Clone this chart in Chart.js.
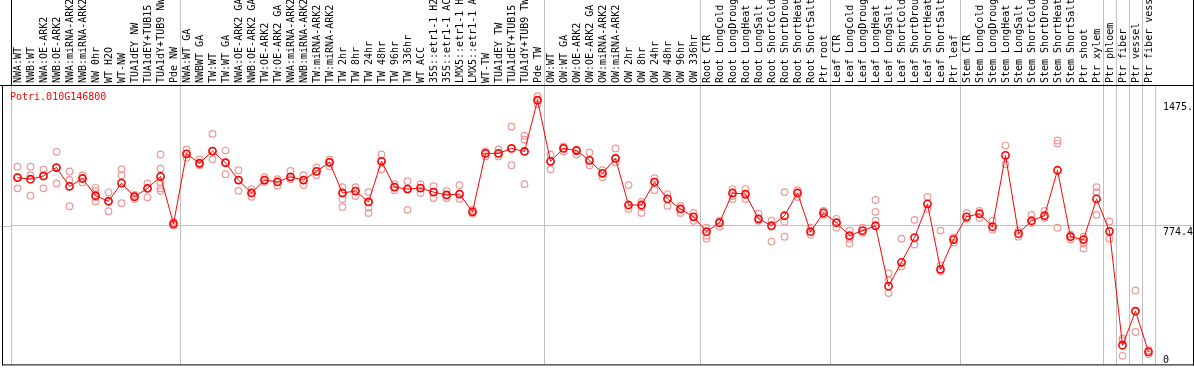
<!DOCTYPE html>
<html><head><meta charset="utf-8">
<script src="https://cdn.jsdelivr.net/npm/chart.js@4.4.1/dist/chart.umd.min.js"></script>
<style>html,body{margin:0;padding:0;background:#fff;overflow:hidden}canvas{display:block}</style>
</head><body>
<canvas id="c" width="1194" height="370"></canvas>
<script>
const geneId = 'Potri.010G146800';

const categories = [
  'NWA:WT','NWB:WT','NWA:OE-ARK2','NWB:OE-ARK2','NWA:miRNA-ARK2','NWB:miRNA-ARK2','NW 0hr','WT H2O','WT-NW','TUA1dEY NW','TUA1dEY+TUB15 NW','TUA1dY+TUB9 NW','Pde NW',
  'NWA:WT GA','NWBWT GA','TW:WT','TW:WT GA','NWA:OE-ARK2 GA','NWB:OE-ARK2 GA','TW:OE-ARK2','TW:OE-ARK2 GA','NWA:miRNA-ARK2 GA','NWB:miRNA-ARK2 GA','TW:miRNA-ARK2','TW:miRNA-ARK2 GA',
  'TW 2hr','TW 8hr','TW 24hr','TW 48hr','TW 96hr','TW 336hr','WT ACC','35S::etr1-1 H2O','35S::etr1-1 ACC','LMX5::etr1-1 H2O','LMX5::etr1-1 ACC','WT-TW','TUA1dEY TW','TUA1dEY+TUB15 TW','TUA1dY+TUB9 TW','Pde TW',
  'OW:WT','OW:WT GA','OW:OE-ARK2','OW:OE-ARK2 GA','OW:miRNA-ARK2','OW:miRNA-ARK2 GA','OW 2hr','OW 8hr','OW 24hr','OW 48hr','OW 96hr','OW 336hr',
  'Root CTR','Root LongCold','Root LongDrought','Root LongHeat','Root LongSalt','Root ShortCold','Root ShortDrought','Root ShortHeat','Root ShortSalt','Ptr root',
  'Leaf CTR','Leaf LongCold','Leaf LongDrought','Leaf LongHeat','Leaf LongSalt','Leaf ShortCold','Leaf ShortDrought','Leaf ShortHeat','Leaf ShortSalt','Ptr leaf',
  'Stem CTR','Stem LongCold','Stem LongDrought','Stem LongHeat','Stem LongSalt','Stem ShortCold','Stem ShortDrought','Stem ShortHeat','Stem ShortSalt','Ptr shoot','Ptr xylem',
  'Ptr phloem','Ptr fiber','Ptr vessel','Ptr fiber vessel'
];

const meanValues = [
  1043,1034,1052,1099,994,1038,942,911,1012,936,983,1049,785,
  1176,1123,1191,1126,1029,957,1029,1019,1047,1029,1078,1128,957,968,907,1134,990,979,984,962,946,951,852,1178,1178,1206,1189,1475,
  1134,1206,1194,1139,1067,1150,890,890,1018,924,868,824,
  741,791,957,951,813,774,830,957,741,846,
  791,719,747,774,437,570,708,896,531,697,
  824,841,769,1167,730,802,830,1084,713,697,924,
  743,107,297,70
];

const replicateValues = [
  [1104,1045,983],[1104,1056,942],[1089,1052,983],[1187,1099,1010],[1077,1030,883],[1056,1038,1016],[986,969,933,909],[961,911,855],[1089,1056,900],[946,936,924],[1010,983,933],[1172,1093,1016,983,969],[796,785,774],
  [1200,1176,1154],[1145,1123,1112],[1287,1191,1145],[1194,1126,1062],[1084,1029,969],[979,957,936],[1045,1029,1018],[1034,1019,997],[1080,1047,1034],[1056,1029,1001],[1100,1078,1056],[1145,1128,1106],
  [990,957,924,879],[990,968,940],[962,907,874,846],[1172,1134,1089],[1006,990,973],[1023,979,863],[1006,984,957],[995,962,929],[968,946,929],[1001,951,924],[863,852,841],[1189,1178,1161],[1200,1178,1161],[1327,1206,1112],[1277,1255,1189,1006],[1498,1475,1452],
  [1172,1134,1089],[1217,1206,1189],[1200,1194,1172],[1183,1139,1112],[1084,1067,1045],[1206,1150,1128],[1001,890,868],[907,879,846],[1040,1018,973],[951,924,885],[885,868,846],[846,824,802],
  [763,719,702],[802,769],[979,940,924],[979,946,924],[841,802],[802,686],[962,796,713],[973,935],[763,724],[857,835],
  [813,763],[747,702,675],[763,735],[918,852,802],[509,470,398],[702,547],[807,669],[935,868],[747,553,520],[708,680],
  [846,813],[857,818],[802,752],[1222,1117],[747,713],[835,791],[857,818],[1250,1233,763],[724,697],[713,675,647],[990,962,835],
  [798,702],[145,134,48],[413,181],[79,57]
];

const yTickValues = [0, 774.4, 1475];
const yTickLabels = ['0', '774.4', '1475.'];
const yMax = 1560;
const groupBreaks = [0, 13, 41, 53, 63, 73, 84, 85, 86, 87, 88];

const FONT = 'DejaVu Sans Mono';
const GRID = '#c0c0c0';
const NONE = 'rgba(0,0,0,0)';
const breakSet = new Set(groupBreaks);

const maxReps = Math.max(...replicateValues.map(r => r.length));
const repDatasets = [];
for (let k = 0; k < maxReps; k++) {
  repDatasets.push({
    label: 'rep' + (k + 1),
    data: replicateValues.map(r => (r[k] === undefined ? null : r[k])),
    showLine: false,
    pointStyle: 'circle',
    pointRadius: 3.3,
    pointBorderWidth: 1.2,
    pointBorderColor: '#ee9999',
    pointBackgroundColor: NONE,
    borderColor: '#ee9999',
    backgroundColor: NONE
  });
}

const framePlugin = {
  id: 'frame',
  afterDraw(chart) {
    const ctx = chart.ctx, a = chart.chartArea, W = chart.width;
    const yMid = Math.round(chart.scales.y.getPixelForValue(774.4)) + 0.5;
    ctx.save();
    ctx.lineWidth = 1;
    ctx.strokeStyle = GRID;
    ctx.beginPath();
    ctx.moveTo(0, yMid); ctx.lineTo(a.left, yMid);
    ctx.stroke();
    ctx.strokeStyle = '#000';
    ctx.beginPath();
    ctx.moveTo(0, a.top + 0.5); ctx.lineTo(W, a.top + 0.5);
    ctx.moveTo(2.5, a.top); ctx.lineTo(2.5, a.bottom + 1);
    ctx.moveTo(2, a.bottom + 0.5); ctx.lineTo(W, a.bottom + 0.5);
    ctx.moveTo(W - 0.5, 0); ctx.lineTo(W - 0.5, a.bottom + 1);
    ctx.stroke();
    ctx.fillStyle = '#ff0000';
    ctx.font = '10px "' + FONT + '"';
    ctx.textBaseline = 'top';
    ctx.textAlign = 'left';
    ctx.fillText(geneId, 10, 92);
    ctx.restore();
  }
};

new Chart(document.getElementById('c'), {
  type: 'line',
  data: {
    labels: categories,
    datasets: [{
      label: geneId,
      data: meanValues,
      borderColor: '#ff0000',
      borderWidth: 1,
      backgroundColor: NONE,
      pointStyle: 'circle',
      pointRadius: 3.6,
      pointBorderWidth: 1.6,
      pointBorderColor: '#ff0000',
      pointBackgroundColor: NONE,
      tension: 0
    }, ...repDatasets]
  },
  options: {
    responsive: false,
    devicePixelRatio: 1,
    animation: false,
    events: [],
    layout: { padding: { left: 11, right: 1, top: 0, bottom: 3 } },
    plugins: { legend: { display: false }, tooltip: { enabled: false }, title: { display: false } },
    scales: {
      x: {
        type: 'category',
        position: 'top',
        offset: true,
        grid: {
          offset: true,
          drawTicks: true,
          tickLength: 85,
          lineWidth: 1,
          color: c => breakSet.has(c.index) ? GRID : NONE,
          tickColor: c => c.index === 0 ? '#000' : (breakSet.has(c.index) ? GRID : NONE)
        },
        border: { display: true, color: '#000' },
        ticks: {
          autoSkip: false,
          maxRotation: 90,
          minRotation: 90,
          padding: -83,
          labelOffset: 13,
          color: '#000',
          font: { family: FONT, size: 10, lineHeight: 1.2 }
        },
        afterFit: s => { s.height = 85; s.paddingLeft = 0; s.paddingRight = 0; }
      },
      y: {
        type: 'linear',
        position: 'right',
        min: 0,
        max: yMax,
        afterBuildTicks: s => { s.ticks = yTickValues.map(v => ({ value: v })); },
        afterFit: s => { s.width = 38; s.paddingTop = 0; s.paddingBottom = 0; },
        grid: {
          drawTicks: true,
          tickLength: 38,
          color: c => (c.tick && c.tick.value === 774.4) ? GRID : NONE,
          tickColor: c => (c.tick && c.tick.value === 774.4) ? GRID : NONE
        },
        border: { display: true, color: GRID },
        ticks: {
          autoSkip: false,
          padding: -30,
          color: '#000',
          font: c => ({ family: FONT, size: 10, lineHeight: (c.tick && c.tick.value === 0) ? 0.8 : 1.4 }),
          callback: (v, i) => {
            const lbl = yTickLabels[yTickValues.indexOf(v)];
            return v === 0 ? [lbl, ''] : ['', lbl];
          }
        }
      }
    }
  },
  plugins: [framePlugin]
});
</script>
</body></html>
